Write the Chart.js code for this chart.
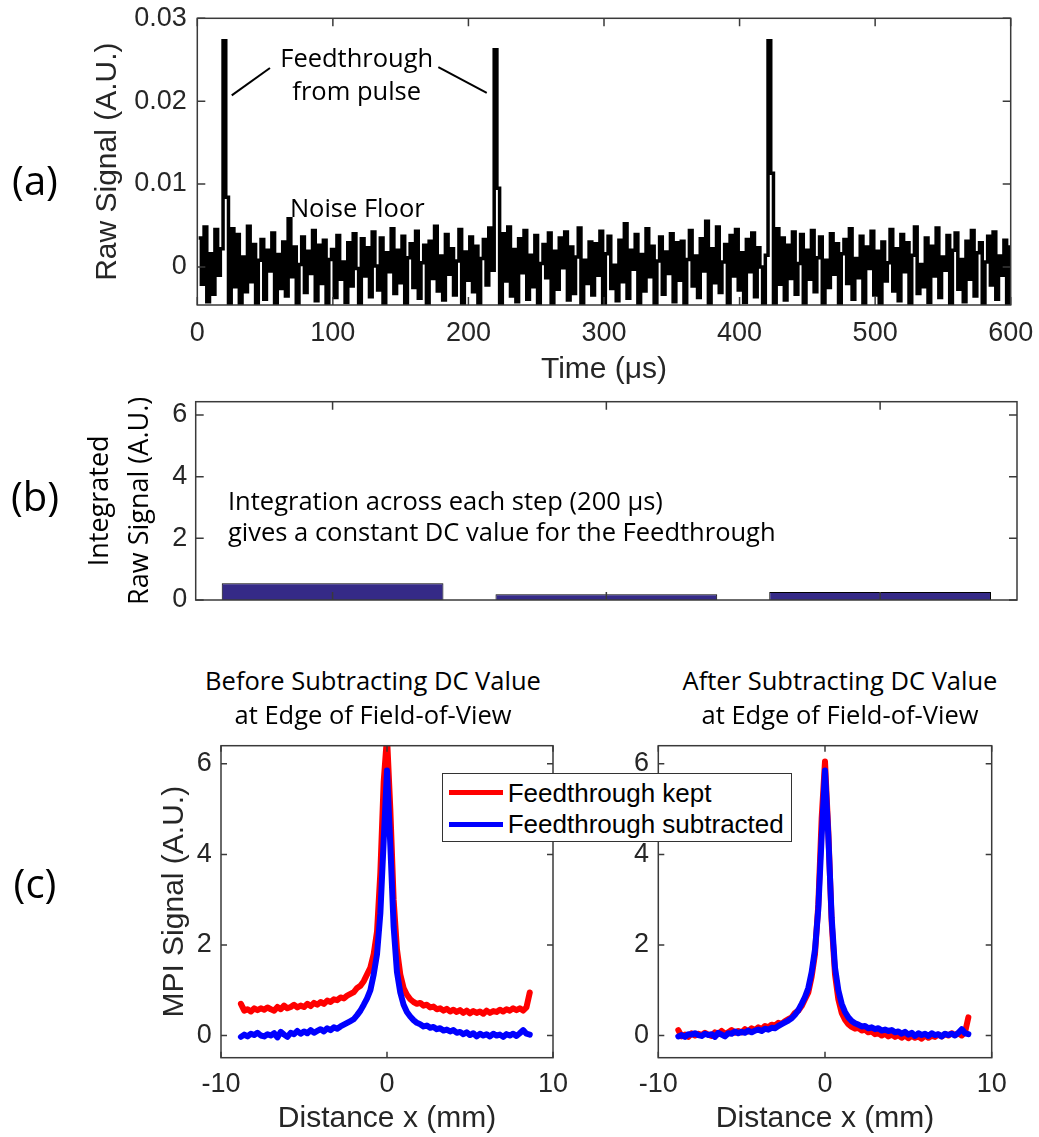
<!DOCTYPE html>
<html>
<head>
<meta charset="utf-8">
<script src="https://cdn.jsdelivr.net/npm/chart.js@4.4.1/dist/chart.umd.min.js"></script>
<style>
  body { margin: 0; background: #fff; }
  #fig { position: relative; width: 1039px; height: 1137px; overflow: hidden; }
  canvas { position: absolute; }
  .lbl { position: absolute; transform: translate(-50%, -50%); white-space: nowrap; line-height: 1; color: #000; font-family: 'Open Sans', sans-serif; }
  .panel { font-size: 40px; }
  .ttl { font-size: 25.5px; }
  #legend { position: absolute; left: 441.7px; top: 773.3px; width: 350px; height: 69px; box-sizing: border-box;
            border: 1.3px solid #333; background: #fff; font-family: 'Liberation Sans', Arial, sans-serif; font-size: 26px; }
  #legend .sw { position: absolute; left: 6px; width: 54px; height: 5px; }
  #legend .tx { position: absolute; left: 65px; transform: translateY(-50%); line-height: 1; white-space: nowrap; }
</style>
</head>
<body>
<div id="fig">
  <canvas id="rawChart" width="1039" height="400" style="left:0;top:0"></canvas>
  <canvas id="intChart" width="1039" height="260" style="left:0;top:380px"></canvas>
  <canvas id="beforeChart" width="600" height="417" style="left:0;top:720px"></canvas>
  <canvas id="afterChart" width="469" height="417" style="left:570px;top:720px"></canvas>

  <div class="lbl panel" style="left:35px;top:180px">(a)</div>
  <div class="lbl panel" style="left:35px;top:496px">(b)</div>
  <div class="lbl panel" style="left:35px;top:883px">(c)</div>

  <div class="lbl ttl" style="left:373px;top:681px">Before Subtracting DC Value</div>
  <div class="lbl ttl" style="left:373px;top:715px">at Edge of Field-of-View</div>
  <div class="lbl ttl" style="left:840px;top:681px">After Subtracting DC Value</div>
  <div class="lbl ttl" style="left:840px;top:715px">at Edge of Field-of-View</div>

  <div id="legend">
    <div class="sw" style="top:16px;background:#ff0000"></div>
    <div class="tx" style="top:18.5px">Feedthrough kept</div>
    <div class="sw" style="top:47.5px;background:#0000ff"></div>
    <div class="tx" style="top:50px">Feedthrough subtracted</div>
  </div>
</div>

<script>
// ---- (a) raw signal, sampled every 2 us starting at t = 1 us (values in 1e-3 A.U.)
const rawSignalMilli = [
  3.5, -2.1, 4.8, -4.2, 1.6, -3.3, 4.5, -1.0, 2.2, 27.3, 8.4, -5.5, 4.6, -2.4, 3.9, -4.9, 1.2, -3.0, 4.9, -1.8,
  2.7, -4.4, 0.8, 3.3, -3.9, 2.0, -0.5, 4.1, -4.8, 1.5, -2.6, 3.0, -3.5, 5.8, -1.2, 2.4, -4.6, 0.3, 3.6, -3.1,
  1.9, -0.8, 4.4, -4.1, 2.6, -2.0, 3.2, -5.2, 0.9, 2.1, -3.7, 3.8, -1.5, 0.6, -4.3, 2.9, -2.3, 4.0, -0.2, -4.7,
  3.4, -1.1, 2.3, -3.6, 4.2, 0.1, -2.8, 3.5, -4.9, 1.7, -0.6, 4.6, -3.2, 2.0, -1.9, 3.7, -5.0, 1.1, 2.8, -2.5,
  4.3, -3.8, 0.5, 2.6, -4.5, 3.1, -1.4, 4.9, -2.9, 1.3, -4.0, 3.9, -0.9, 2.2, -3.4, 0.7, 4.5, -4.6, 1.8, -1.6,
  3.6, -3.0, 2.5, -4.8, 1.0, 3.3, -2.2, 4.7, -0.4, 26.2, 9.5, -5.5, 4.0, -1.7, 4.8, -3.5, 2.1, -4.2, 3.4, -0.7,
  4.4, -3.9, 1.4, -2.4, 3.8, -4.4, 0.4, 2.7, -1.3, 4.1, -5.1, 1.9, -2.7, 3.5, -0.1, 4.2, -4.0, 2.4, -3.2, 1.2,
  4.7, -4.9, 0.8, -2.0, 3.0, -3.4, 2.8, -1.0, 4.3, -4.7, 1.6, 3.7, -2.6, 0.2, -4.1, 3.2, -1.8, 5.2, -3.8, 2.0,
  -0.3, 3.9, -4.5, 1.5, -2.9, 4.6, -1.2, 2.5, -5.0, 0.7, 3.6, -3.3, 1.8, -0.8, 4.0, -4.2, 2.9, -1.6, 3.1, -4.8,
  0.9, 4.4, -2.3, 1.3, -3.7, 3.4, -0.5, 5.5, -4.4, 2.2, -1.9, 4.8, -3.1, 0.6, 2.7, -4.6, 3.8, -1.1, 4.5, -2.8,
  1.7, -4.3, 3.3, -0.6, 4.1, -3.6, 2.3, 0.0, -5.2, 1.4, 27.3, 11.3, -5.5, 4.6, -2.1, 3.5, -4.0, 2.6, -1.4, 4.2,
  -3.3, 0.4, 3.9, -4.7, 2.0, -1.5, 4.4, -3.0, 1.1, 3.6, -4.4, 0.8, -2.5, 4.0, -0.9, 2.8, -4.9, 1.6, 3.3, -2.0,
  4.6, -3.9, 1.0, -1.3, 3.7, -4.5, 2.4, -0.2, 4.3, -3.4, 1.9, -4.8, 3.0, -1.7, 0.5, 4.5, -2.9, 2.2, -4.1, 3.9,
  -0.6, 2.9, -4.6, 1.4, 4.8, -3.2, 0.3, -2.4, 3.5, -4.3, 2.5, -1.1, 4.7, -3.7, 1.2, -0.4, 3.8, -5.0, 2.0, 4.1,
  -2.7, 0.9, -4.2, 3.1, -1.5, 4.4, -3.5, 1.7, 2.9, -4.9, 0.6, 3.7, -2.2, 4.2, -3.9, 1.3, -1.0, 3.2, -4.4, 2.6
];
const timeUs = rawSignalMilli.map((_, i) => 1 + 2 * i);
const timeTicks = [0, 100, 200, 300, 400, 500, 600];
const rawTicks = [0, 0.01, 0.02, 0.03];
const rawTickLabels = ['0', '0.01', '0.02', '0.03'];

// ---- (b) integrated signal per 200 us step
const stepLabels = ['Step 1', 'Step 2', 'Step 3'];
const integratedValues = [0.54, 0.19, 0.26];
const mpiTicks = [0, 2, 4, 6];

// ---- (c) MPI profiles, x from -8.8 mm to 8.6 mm every 0.2 mm
const distX = Array.from({ length: 88 }, (_, i) => Math.round((-8.8 + 0.2 * i) * 10) / 10);
const distTicks = [-10, 0, 10];
const beforeKept = [
  0.70, 0.55, 0.58, 0.53, 0.60, 0.56, 0.60, 0.57, 0.62, 0.58, 0.55,
  0.63, 0.58, 0.66, 0.60, 0.63, 0.68, 0.62, 0.66, 0.63, 0.70, 0.65,
  0.72, 0.68, 0.74, 0.70, 0.77, 0.74, 0.80, 0.78, 0.84, 0.82, 0.88,
  0.92, 0.96, 1.05, 1.10, 1.20, 1.35, 1.50, 1.80, 2.30, 3.60, 5.60,
  6.60, 5.00, 3.00, 1.90, 1.35, 1.05, 0.90, 0.80, 0.74, 0.70, 0.72,
  0.66, 0.68, 0.62, 0.64, 0.58, 0.60, 0.55, 0.59, 0.53, 0.57, 0.52,
  0.56, 0.50, 0.55, 0.49, 0.54, 0.50, 0.53, 0.48, 0.55, 0.50, 0.54,
  0.52, 0.57, 0.53, 0.58, 0.55, 0.60, 0.56, 0.60, 0.55, 0.62, 0.95
];
const beforeSubtracted = [
  -0.03, 0.02, -0.02, 0.04, 0.01, 0.06, 0.00, -0.02, 0.03, 0.00, 0.05,
  -0.04, 0.08, 0.02, -0.03, 0.06, 0.03, 0.10, 0.04, 0.09, 0.05, 0.12,
  0.06, 0.10, 0.14, 0.09, 0.16, 0.12, 0.18, 0.15, 0.20, 0.24, 0.28,
  0.32, 0.36, 0.45, 0.55, 0.68, 0.82, 1.00, 1.35, 1.80, 2.70, 4.30,
  5.85, 4.20, 2.40, 1.40, 0.95, 0.68, 0.52, 0.42, 0.34, 0.28, 0.25,
  0.20, 0.22, 0.17, 0.19, 0.14, 0.16, 0.11, 0.13, 0.09, 0.12, 0.06,
  0.08, 0.03, 0.07, 0.01, 0.05, -0.02, 0.04, 0.00, 0.03, -0.02, 0.04,
  0.00, 0.02, -0.03, 0.03, 0.00, 0.04, -0.01, 0.05, 0.12, 0.04, 0.02
];
const afterKept = [
  0.12, -0.02, 0.02, -0.03, 0.05, 0.00, 0.04, 0.01, 0.06, 0.02, -0.01,
  0.07, 0.03, 0.10, 0.04, 0.07, 0.12, 0.06, 0.10, 0.07, 0.14, 0.09,
  0.16, 0.12, 0.18, 0.14, 0.21, 0.18, 0.24, 0.22, 0.28, 0.26, 0.32,
  0.36, 0.40, 0.50, 0.55, 0.65, 0.80, 0.95, 1.30, 1.80, 2.90, 4.80,
  6.05, 4.50, 2.50, 1.35, 0.80, 0.50, 0.35, 0.25, 0.19, 0.15, 0.17,
  0.11, 0.13, 0.07, 0.09, 0.03, 0.05, 0.00, 0.04, -0.02, 0.02, -0.03,
  0.01, -0.05, 0.00, -0.06, -0.01, -0.05, -0.02, -0.07, 0.00, -0.05, -0.01,
  -0.03, 0.02, -0.02, 0.03, 0.00, 0.05, 0.01, 0.05, 0.00, 0.07, 0.40
];
const afterSubtracted = [
  -0.02, 0.01, -0.03, 0.03, 0.02, 0.05, 0.01, -0.01, 0.04, 0.01, 0.03,
  -0.03, 0.06, 0.02, -0.02, 0.05, 0.04, 0.09, 0.05, 0.08, 0.06, 0.11,
  0.07, 0.11, 0.13, 0.10, 0.15, 0.13, 0.17, 0.16, 0.21, 0.25, 0.29,
  0.33, 0.38, 0.46, 0.56, 0.70, 0.85, 1.05, 1.40, 1.90, 2.80, 4.40,
  5.85, 4.40, 2.60, 1.50, 1.00, 0.70, 0.52, 0.40, 0.32, 0.27, 0.24,
  0.20, 0.21, 0.16, 0.18, 0.14, 0.16, 0.11, 0.13, 0.10, 0.12, 0.07,
  0.09, 0.04, 0.08, 0.02, 0.06, -0.01, 0.05, 0.01, 0.04, -0.01, 0.05,
  0.01, 0.03, -0.02, 0.04, 0.01, 0.04, 0.00, 0.06, 0.14, 0.05, 0.03
];

const axisFamily = "'Liberation Sans', Arial, sans-serif";
const axisColor = '#262626';
const tickFont = { family: axisFamily, size: 27 };
const titleFont = { family: axisFamily, size: 30 };
const noteFont = "25.5px 'Open Sans', sans-serif";

// box around the axes with inward tick marks on all four sides (MATLAB look)
const matlabBox = {
  id: 'matlabBox',
  afterDatasetsDraw(chart, args, opts) {
    const { ctx, chartArea: a, scales: { x, y } } = chart;
    const len = opts.tickLen || 8;
    ctx.save();
    ctx.strokeStyle = '#3a3a3a';
    ctx.lineWidth = 1.5;
    ctx.beginPath();
    x.ticks.forEach((t, i) => {
      const px = x.getPixelForTick(i);
      ctx.moveTo(px, a.bottom); ctx.lineTo(px, a.bottom - len);
      ctx.moveTo(px, a.top); ctx.lineTo(px, a.top + len);
    });
    y.ticks.forEach((t, i) => {
      const py = y.getPixelForTick(i);
      ctx.moveTo(a.left, py); ctx.lineTo(a.left + len, py);
      ctx.moveTo(a.right, py); ctx.lineTo(a.right - len, py);
    });
    ctx.stroke();
    ctx.strokeRect(a.left, a.top, a.right - a.left, a.bottom - a.top);
    ctx.restore();
  }
};

// text notes and pointer lines placed in data coordinates
const notes = {
  id: 'notes',
  afterDraw(chart, args, opts) {
    const { ctx, scales: { x, y } } = chart;
    const px = v => opts.xDecimal ? x.getPixelForDecimal(v) : x.getPixelForValue(v);
    ctx.save();
    ctx.strokeStyle = '#000';
    ctx.fillStyle = '#000';
    ctx.lineWidth = 2;
    (opts.lines || []).forEach(l => {
      ctx.beginPath();
      ctx.moveTo(px(l[0]), y.getPixelForValue(l[1]));
      ctx.lineTo(px(l[2]), y.getPixelForValue(l[3]));
      ctx.stroke();
    });
    (opts.texts || []).forEach(t => {
      ctx.font = noteFont;
      ctx.textAlign = t.align || 'center';
      ctx.textBaseline = 'alphabetic';
      ctx.fillText(t.text, px(t.x), y.getPixelForValue(t.y));
    });
    ctx.restore();
  }
};

function fixedTicks(values) {
  return s => { s.ticks = values.map(v => ({ value: v })); };
}
// pin axis sizes so the plot boxes land where the figure has them
function fixX(h) {
  return s => { s.height = h; s.paddingLeft = 0; s.paddingRight = 0; };
}
function fixY(w) {
  return s => { s.width = w; s.paddingTop = 0; s.paddingBottom = 0; };
}

const common = {
  responsive: false,
  animation: false,
  devicePixelRatio: 1,
  plugins: { legend: { display: false }, tooltip: { enabled: false } },
  elements: { point: { radius: 0 } }
};

// (a) raw signal
new Chart(document.getElementById('rawChart'), {
  type: 'line',
  data: {
    datasets: [{
      data: timeUs.map((t, i) => ({ x: t, y: rawSignalMilli[i] / 1000 })),
      borderColor: '#000',
      borderWidth: 3.5,
      stepped: true,
      borderJoinStyle: 'miter',
      fill: false
    }]
  },
  options: {
    ...common,
    layout: { padding: { left: 86, right: 28.3, top: 18.3, bottom: 0 } },
    plugins: {
      ...common.plugins,
      matlabBox: { tickLen: 8 },
      notes: {
        lines: [[25.4, 0.0207, 53.6, 0.0240], [213.5, 0.0210, 177.8, 0.0241]],
        texts: [
          { text: 'Feedthrough', x: 117.6, y: 0.02415 },
          { text: 'from pulse', x: 117.6, y: 0.0201 },
          { text: 'Noise Floor', x: 118, y: 0.0060 }
        ]
      }
    },
    scales: {
      x: {
        type: 'linear', min: 0, max: 600,
        afterBuildTicks: fixedTicks(timeTicks),
        afterFit: fixX(95),
        grid: { display: false, drawTicks: false }, border: { display: false },
        ticks: { font: tickFont, color: axisColor, padding: 12.8, maxRotation: 0, autoSkip: false },
        title: { display: true, text: 'Time (μs)', font: titleFont, color: axisColor, padding: { top: 0, bottom: 12 } }
      },
      y: {
        min: -0.0046, max: 0.03,
        afterBuildTicks: fixedTicks(rawTicks),
        afterFit: fixY(111.3),
        grid: { display: false, drawTicks: false }, border: { display: false },
        ticks: { font: tickFont, color: axisColor, padding: 10.6, callback: (v, i) => rawTickLabels[i] },
        title: { display: true, text: 'Raw Signal (A.U.)', font: titleFont, color: axisColor, padding: { top: 4, bottom: 0 } }
      }
    }
  },
  plugins: [matlabBox, notes]
});

// (b) integrated raw signal
new Chart(document.getElementById('intChart'), {
  type: 'bar',
  data: {
    labels: stepLabels,
    datasets: [{
      data: integratedValues,
      backgroundColor: '#352a87',
      borderColor: '#000',
      borderWidth: 1,
      barPercentage: 0.81,
      categoryPercentage: 1.0
    }]
  },
  options: {
    ...common,
    layout: { padding: { left: 76, right: 22, top: 21.7, bottom: 0 } },
    plugins: {
      ...common.plugins,
      matlabBox: { tickLen: 8 },
      notes: {
        xDecimal: true,
        texts: [
          { text: 'Integration across each step (200 μs)', x: 0.0393, y: 2.92, align: 'left' },
          { text: 'gives a constant DC value for the Feedthrough', x: 0.0393, y: 1.90, align: 'left' }
        ]
      }
    },
    scales: {
      x: {
        afterFit: fixX(40),
        grid: { display: false, drawTicks: false }, border: { display: false },
        ticks: { display: false }
      },
      y: {
        min: 0, max: 6.43,
        afterBuildTicks: fixedTicks(mpiTicks),
        afterFit: fixY(119.7),
        grid: { display: false, drawTicks: false }, border: { display: false },
        ticks: { font: tickFont, color: axisColor, padding: 8.4 },
        title: {
          display: true, text: ['Integrated', 'Raw Signal (A.U.)'], color: '#000',
          font: { family: "'Open Sans', sans-serif", size: 27, lineHeight: 1.5 },
          padding: { top: 4, bottom: 0 }
        }
      }
    }
  },
  plugins: [matlabBox, notes]
});

// (c) MPI profiles before / after subtraction
function profileChart(id, kept, subtracted, pad, yWidth, showTitle) {
  return new Chart(document.getElementById(id), {
    type: 'line',
    data: {
      datasets: [
        // blue drawn on top of red, as in the figure
        { label: 'Feedthrough kept', data: distX.map((x, i) => ({ x, y: kept[i] })), borderColor: '#ff0000', order: 2 },
        { label: 'Feedthrough subtracted', data: distX.map((x, i) => ({ x, y: subtracted[i] })), borderColor: '#0000ff', order: 1 }
      ]
    },
    options: {
      ...common,
      datasets: { line: { borderWidth: 6, borderCapStyle: 'round', borderJoinStyle: 'round', fill: false } },
      layout: { padding: pad },
      plugins: { ...common.plugins, matlabBox: { tickLen: 6 } },
      scales: {
        x: {
          type: 'linear', min: -10, max: 10,
          afterBuildTicks: fixedTicks(distTicks),
          afterFit: fixX(79.3),
          grid: { display: false, drawTicks: false }, border: { display: false },
          ticks: { font: tickFont, color: axisColor, padding: 11.1, maxRotation: 0, autoSkip: false },
          title: { display: true, text: 'Distance x (mm)', font: titleFont, color: axisColor, padding: { top: 0, bottom: 0 } }
        },
        y: {
          min: -0.49, max: 6.4,
          afterBuildTicks: fixedTicks(mpiTicks),
          afterFit: fixY(yWidth),
          grid: { display: false, drawTicks: false }, border: { display: false },
          ticks: { font: tickFont, color: axisColor, padding: 9.3 },
          title: { display: showTitle, text: 'MPI Signal (A.U.)', font: titleFont, color: axisColor, padding: { top: 4, bottom: 0 } }
        }
      }
    },
    plugins: [matlabBox]
  });
}

profileChart('beforeChart', beforeKept, beforeSubtracted, { left: 153, right: 47, top: 25.7, bottom: 0 }, 68, true);
profileChart('afterChart', afterKept, afterSubtracted, { left: 0, right: 47.3, top: 25.7, bottom: 0 }, 88.3, false);
</script>
</body>
</html>
